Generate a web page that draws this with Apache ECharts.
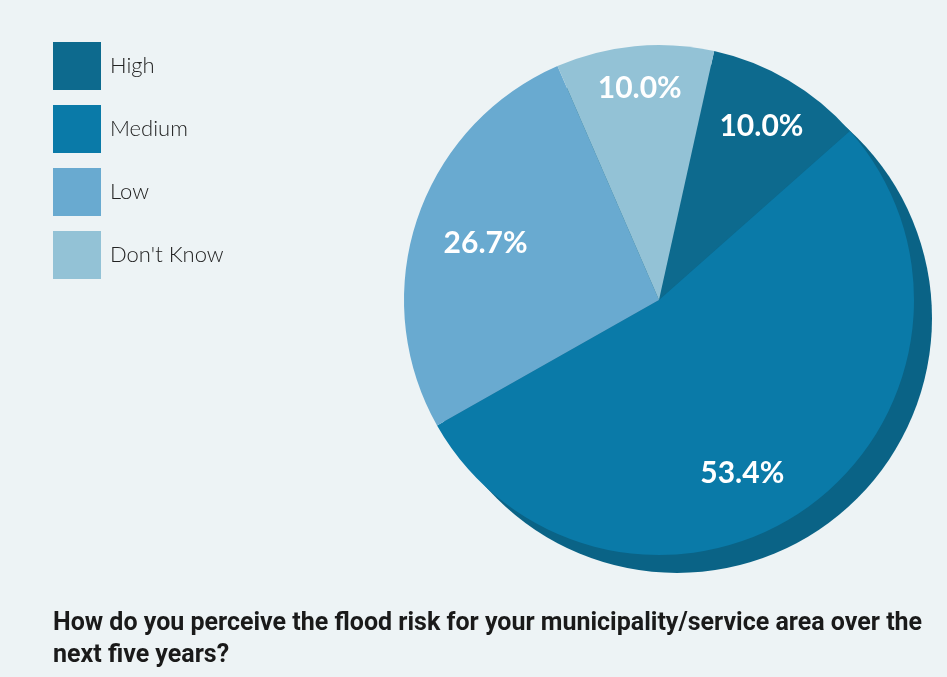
<!DOCTYPE html>
<html>
<head>
<meta charset="utf-8">
<script src="https://cdn.jsdelivr.net/npm/echarts@6/dist/echarts.min.js"></script>
<style>
  html, body { margin: 0; padding: 0; background: #edf3f5; }
  #chart { width: 947px; height: 677px; }
</style>
</head>
<body>
<div id="chart"></div>
<script>
// survey answers, percent
const categories = ['High', 'Medium', 'Low', "Don't Know"]
const shares = [10.0, 53.4, 26.7, 10.0]
const sliceColors = ['#0d6a8e', '#0a7aa8', '#69aad0', '#93c2d6']
const questionText = 'How do you perceive the flood risk for your municipality/service area over the\nnext five years?'

const pieCenter = [659, 300]
const pieRadius = 255
const startAngle = 77.5
// small nudges so the labels sit where the original put them
const labelNudge = [[0, 0], [-34, 9], [18, 7], [0, -11]]

const sliceData = categories.map((name, i) => ({
  name: name,
  value: shares[i],
  itemStyle: { color: sliceColors[i] },
}))

const total = shares.reduce((a, b) => a + b, 0)

const chart = echarts.init(document.getElementById('chart'))

chart.setOption({
  backgroundColor: '#edf3f5',
  animation: false,
  title: {
    text: questionText,
    left: 48,
    top: 603,
    textStyle: {
      fontFamily: 'Liberation Sans Narrow, Roboto, sans-serif',
      fontWeight: 'bold',
      fontSize: 25,
      lineHeight: 32,
      color: '#1a1a1a',
    },
  },
  legend: {
    data: categories,
    orient: 'vertical',
    left: 48,
    top: 37,
    itemWidth: 48,
    itemHeight: 48,
    itemGap: 15,
    icon: 'rect',
    selectedMode: false,
    textStyle: {
      fontFamily: 'Lato, sans-serif',
      fontWeight: 300,
      fontSize: 22,
      color: '#222222',
      padding: [0, 0, 0, 4],
    },
  },
  series: [
    {
      // darker offset disc that gives the pie its raised rim
      type: 'pie',
      silent: true,
      center: [pieCenter[0] + 18, pieCenter[1] + 18],
      radius: [0, pieRadius],
      label: { show: false },
      labelLine: { show: false },
      data: [{ name: 'rim', value: total, itemStyle: { color: '#0a6386' } }],
    },
    {
      type: 'pie',
      center: pieCenter,
      radius: [0, pieRadius],
      startAngle: startAngle,
      clockwise: true,
      label: { show: false },
      labelLine: { show: false },
      data: sliceData,
    },
    {
      // transparent ring only used to place the labels further out
      type: 'pie',
      silent: true,
      center: pieCenter,
      radius: [pieRadius * 0.56, pieRadius],
      startAngle: startAngle,
      clockwise: true,
      itemStyle: { color: 'transparent' },
      label: {
        show: true,
        position: 'inside',
        formatter: p => p.value.toFixed(1) + '%',
        fontFamily: 'Lato, sans-serif',
        fontWeight: 'bold',
        fontSize: 30,
        color: '#ffffff',
      },
      labelLine: { show: false },
      data: categories.map((name, i) => ({
        name: name,
        value: shares[i],
        label: { offset: labelNudge[i] },
      })),
    },
  ],
})
</script>
</body>
</html>
